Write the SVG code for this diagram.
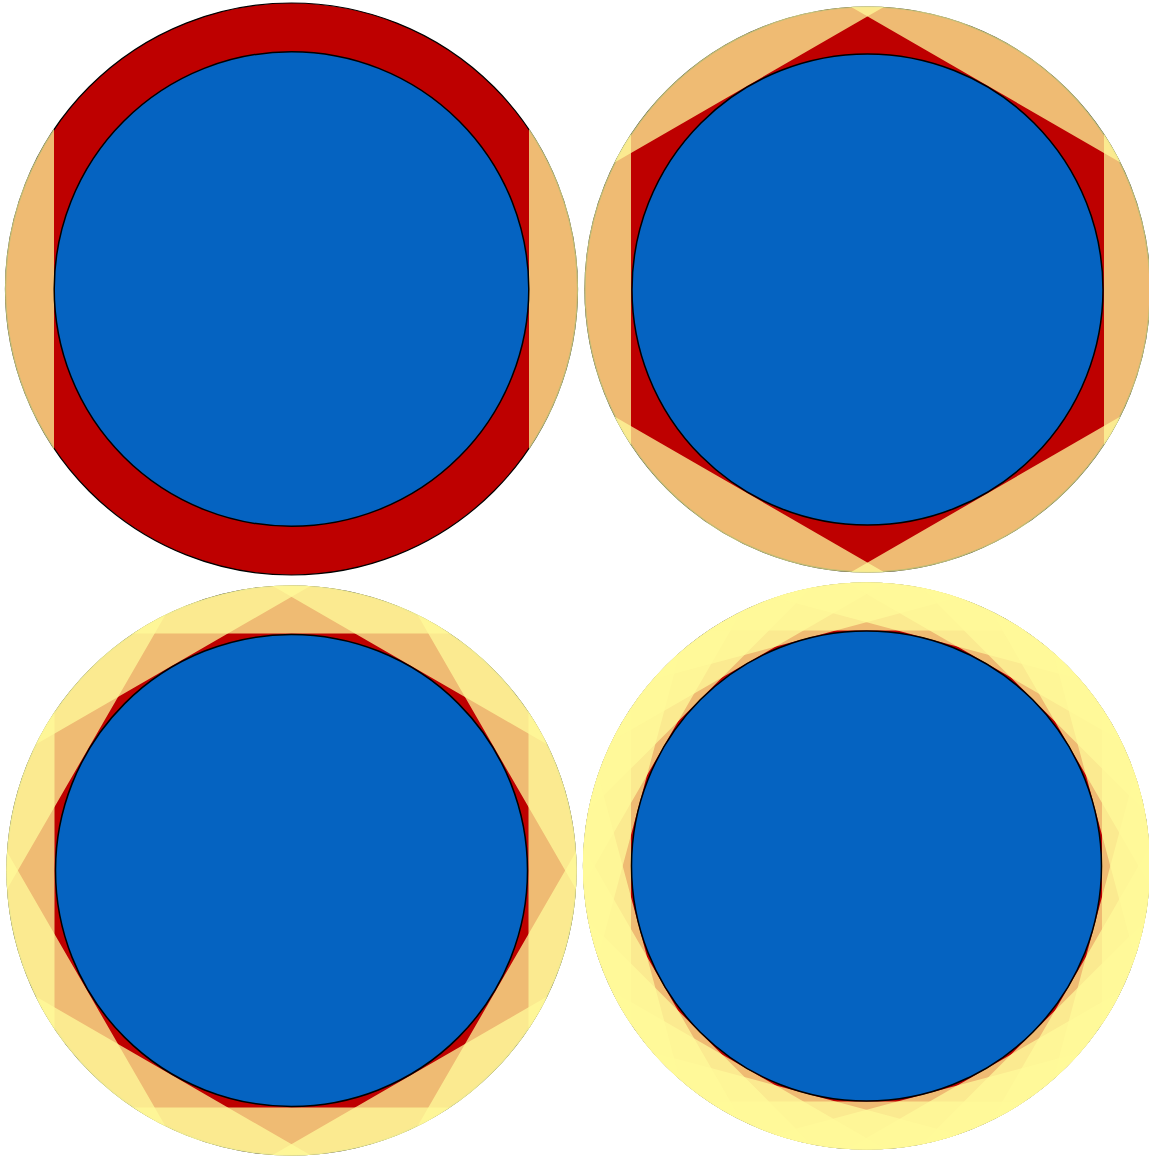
<svg xmlns="http://www.w3.org/2000/svg" width="1149" height="1158" viewBox="0 0 1149 1158">
<style>
.outer{fill:#BE0000;stroke:#000;stroke-width:1.2}
.inner{fill:#0563C1;stroke:#000;stroke-width:1.5}
.band{fill:#FFFA9A;fill-opacity:0.75}
</style>
<defs>
<clipPath id="c1"><circle cx="291.5" cy="289" r="286.6"/></clipPath>
<clipPath id="c2"><circle cx="867.5" cy="289.5" r="283.1"/></clipPath>
<clipPath id="c3"><circle cx="291.5" cy="870.5" r="285.1"/></clipPath>
<clipPath id="c4"><circle cx="866.5" cy="866" r="283.6"/></clipPath>
<path id="b1" d="M237.5,-300H300V300H237.5ZM-237.5,-300H-300V300H-237.5Z"/>
<path id="b2" d="M236.5,-300H300V300H236.5ZM-236.5,-300H-300V300H-236.5Z"/>
<path id="b3" d="M237,-300H300V300H237ZM-237,-300H-300V300H-237Z"/>
<path id="b4" d="M235.5,-300H300V300H235.5ZM-235.5,-300H-300V300H-235.5Z"/>
</defs>
<rect width="1149" height="1158" fill="#fff"/>

<g id="panel1">
<circle class="outer" cx="291.5" cy="289" r="286"/>
<g clip-path="url(#c1)">
<use href="#b1" class="band" transform="translate(291.5,289) rotate(0)"/>
</g>
<circle class="inner" cx="291.5" cy="289" r="237.3"/>
</g>

<g id="panel2">
<circle class="outer" cx="867.5" cy="289.5" r="282.5"/>
<g clip-path="url(#c2)">
<use href="#b2" class="band" transform="translate(867.5,289.5) rotate(0)"/>
<use href="#b2" class="band" transform="translate(867.5,289.5) rotate(60)"/>
<use href="#b2" class="band" transform="translate(867.5,289.5) rotate(120)"/>
</g>
<circle class="inner" cx="867.5" cy="289.5" r="235.5"/>
</g>

<g id="panel3">
<circle class="outer" cx="291.5" cy="870.5" r="284.5"/>
<g clip-path="url(#c3)">
<use href="#b3" class="band" transform="translate(291.5,870.5) rotate(0)"/>
<use href="#b3" class="band" transform="translate(291.5,870.5) rotate(30)"/>
<use href="#b3" class="band" transform="translate(291.5,870.5) rotate(60)"/>
<use href="#b3" class="band" transform="translate(291.5,870.5) rotate(90)"/>
<use href="#b3" class="band" transform="translate(291.5,870.5) rotate(120)"/>
<use href="#b3" class="band" transform="translate(291.5,870.5) rotate(150)"/>
</g>
<circle class="inner" cx="291.5" cy="870.5" r="236"/>
</g>

<g id="panel4">
<circle class="outer" cx="866.5" cy="866" r="283"/>
<g clip-path="url(#c4)">
<use href="#b4" class="band" transform="translate(866.5,866) rotate(0)"/>
<use href="#b4" class="band" transform="translate(866.5,866) rotate(15)"/>
<use href="#b4" class="band" transform="translate(866.5,866) rotate(30)"/>
<use href="#b4" class="band" transform="translate(866.5,866) rotate(45)"/>
<use href="#b4" class="band" transform="translate(866.5,866) rotate(60)"/>
<use href="#b4" class="band" transform="translate(866.5,866) rotate(75)"/>
<use href="#b4" class="band" transform="translate(866.5,866) rotate(90)"/>
<use href="#b4" class="band" transform="translate(866.5,866) rotate(105)"/>
<use href="#b4" class="band" transform="translate(866.5,866) rotate(120)"/>
<use href="#b4" class="band" transform="translate(866.5,866) rotate(135)"/>
<use href="#b4" class="band" transform="translate(866.5,866) rotate(150)"/>
<use href="#b4" class="band" transform="translate(866.5,866) rotate(165)"/>
</g>
<circle class="inner" cx="866.5" cy="866" r="235"/>
</g>
</svg>
